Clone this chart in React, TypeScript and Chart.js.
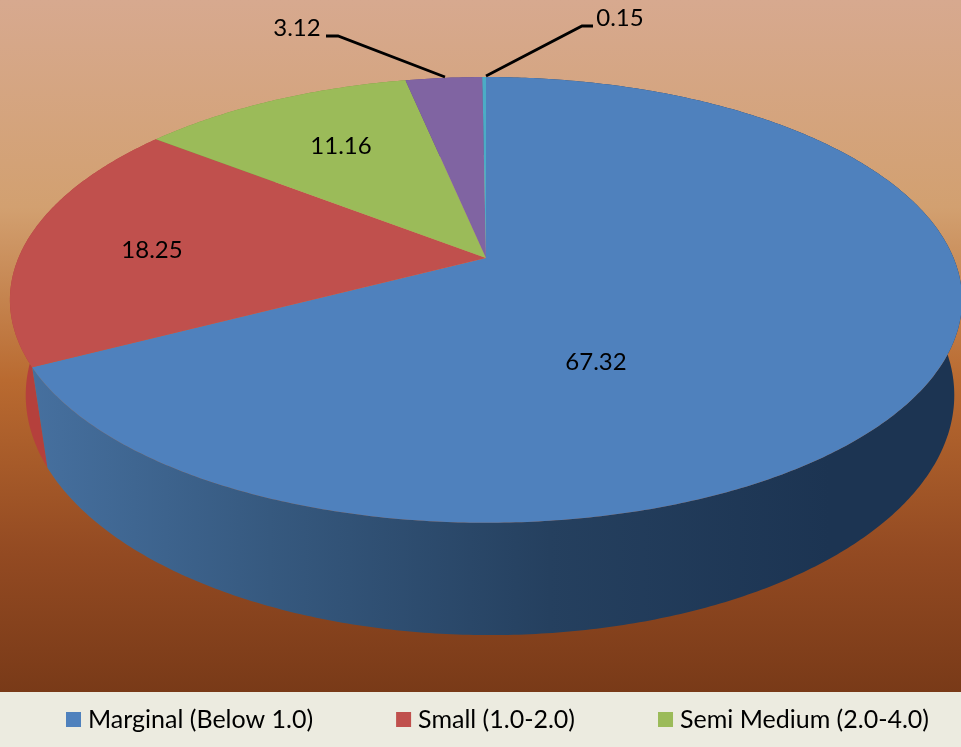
import React, { useEffect, useRef } from "react";
import { Chart, registerables } from "chart.js";

Chart.register(...registerables);

const categories = [
  "Marginal (Below 1.0)",
  "Small (1.0-2.0)",
  "Semi Medium (2.0-4.0)",
  "Medium (4.0-10.0)",
  "Large (Above 10.0)",
];
const shares = [67.32, 18.25, 11.16, 3.12, 0.15];
const faceColors = ["#4F81BD", "#C0504D", "#9BBB59", "#8064A2", "#4BACC6"];
const wallColors = ["#2F4F7A", "#B5403C", "#7A9440", "#5F4A7C", "#35829A"];
const legendCount = 3;

const FONT = "Lato, Carlito, 'Open Sans', sans-serif";
const topRim = { x0: 486, y0: 258, a: 467.6, b: 215, k: 0.188 };
const lowRim = { x0: 490, y0: 350, a: 456, b: 231.5, k: 0.188 };
const BAND_TOP = 692;
const LEGEND_PAD = 88.5;

const inner = [
  { i: 0, x: 596, y: 362 },
  { i: 1, x: 152, y: 250 },
  { i: 2, x: 341, y: 146 },
];
const callouts = [
  { i: 3, x: 297, y: 28, path: [[326, 36], [338, 36], [445, 77]] },
  { i: 4, x: 620, y: 18, path: [[593, 26], [582, 26], [486, 76]] },
];

type Rim = typeof topRim;
const project = (r: Rim, t: number): [number, number] => {
  const y = -Math.cos(t);
  const w = 1 - r.k * y;
  return [r.x0 + (r.a * Math.sin(t)) / w, r.y0 + (r.b * y) / w];
};

const trace = (ctx: CanvasRenderingContext2D, r: Rim, from: number, to: number, first: boolean) => {
  const n = Math.max(2, Math.ceil(Math.abs(to - from) / 0.01));
  for (let s = 0; s <= n; s++) {
    const p = project(r, from + ((to - from) * s) / n);
    if (first && s === 0) ctx.moveTo(p[0], p[1]);
    else ctx.lineTo(p[0], p[1]);
  }
};

function drawFace(this: any, ctx: CanvasRenderingContext2D) {
  const from = this.startAngle + Math.PI / 2;
  const to = this.endAngle + Math.PI / 2;
  ctx.save();
  ctx.beginPath();
  ctx.moveTo(topRim.x0, topRim.y0);
  trace(ctx, topRim, from, to, false);
  ctx.closePath();
  ctx.fillStyle = this.options.backgroundColor;
  ctx.fill();
  ctx.restore();
}

const piePlugin = {
  id: "perspectivePie",
  afterLayout(chart: any) {
    const l = chart.legend;
    l.top = 707 - LEGEND_PAD;
    l.left = 71.5 - LEGEND_PAD;
    l.right = 3000;
  },
  beforeDraw(chart: any) {
    const { ctx, width, height } = chart;
    const g = ctx.createLinearGradient(0, 0, 0, BAND_TOP);
    g.addColorStop(0, "#D7A98F");
    g.addColorStop(0.3, "#D2A070");
    g.addColorStop(0.55, "#B96A30");
    g.addColorStop(0.8, "#934A22");
    g.addColorStop(1, "#793A18");
    ctx.fillStyle = g;
    ctx.fillRect(0, 0, width, BAND_TOP);
    ctx.fillStyle = "#ECEBE0";
    ctx.fillRect(0, BAND_TOP, width, height - BAND_TOP);
  },
  beforeDatasetsDraw(chart: any) {
    const { ctx } = chart;
    const arcs = chart.getDatasetMeta(0).data;
    for (let i = arcs.length - 1; i >= 0; i--) {
      const arc = arcs[i];
      arc.draw = drawFace;
      const from = arc.startAngle + Math.PI / 2;
      const to = arc.endAngle + Math.PI / 2;
      ctx.beginPath();
      trace(ctx, topRim, from, to, true);
      trace(ctx, lowRim, to, from, false);
      ctx.closePath();
      if (i === 0) {
        const w = ctx.createLinearGradient(30, 0, 830, 0);
        w.addColorStop(0, "#46709F");
        w.addColorStop(0.3, "#36597F");
        w.addColorStop(0.65, "#25405F");
        w.addColorStop(1, "#1C3452");
        ctx.fillStyle = w;
      } else {
        ctx.fillStyle = wallColors[i];
      }
      ctx.fill();
    }
  },
  afterDatasetsDraw(chart: any) {
    const { ctx } = chart;
    ctx.save();
    ctx.fillStyle = "#000";
    ctx.font = `24px ${FONT}`;
    ctx.textAlign = "center";
    ctx.textBaseline = "middle";
    for (const l of inner) ctx.fillText(shares[l.i].toFixed(2), l.x, l.y);
    ctx.strokeStyle = "#000";
    ctx.lineWidth = 2.8;
    for (const c of callouts) {
      ctx.fillText(shares[c.i].toFixed(2), c.x, c.y);
      ctx.beginPath();
      c.path.forEach((p, k) => (k ? ctx.lineTo(p[0], p[1]) : ctx.moveTo(p[0], p[1])));
      ctx.stroke();
    }
    ctx.restore();
  },
};

export default function App() {
  const ref = useRef<HTMLCanvasElement>(null);
  useEffect(() => {
    const chart = new Chart(ref.current as HTMLCanvasElement, {
      type: "pie",
      data: {
        labels: categories,
        datasets: [{ data: shares, backgroundColor: faceColors, borderWidth: 0 }],
      },
      options: {
        responsive: false,
        animation: false,
        plugins: {
          title: { display: false },
          tooltip: { enabled: false },
          legend: {
            display: true,
            position: "bottom",
            align: "start",
            labels: {
              color: "#000",
              font: { family: FONT, size: 25 },
              padding: LEGEND_PAD,
              boxWidth: 4,
              boxHeight: 4,
              generateLabels: () =>
                categories.slice(0, legendCount).map((text, index) => ({
                  text,
                  index,
                  fillStyle: faceColors[index],
                  strokeStyle: faceColors[index],
                  fontColor: "#000",
                  lineWidth: 11,
                  hidden: false,
                })),
            },
          },
        },
      } as any,
      plugins: [piePlugin],
    });
    return () => chart.destroy();
  }, []);
  return (
    <canvas
      ref={ref}
      width={961}
      height={747}
      style={{ position: "absolute", left: 0, top: 0, display: "block" }}
    />
  );
}
